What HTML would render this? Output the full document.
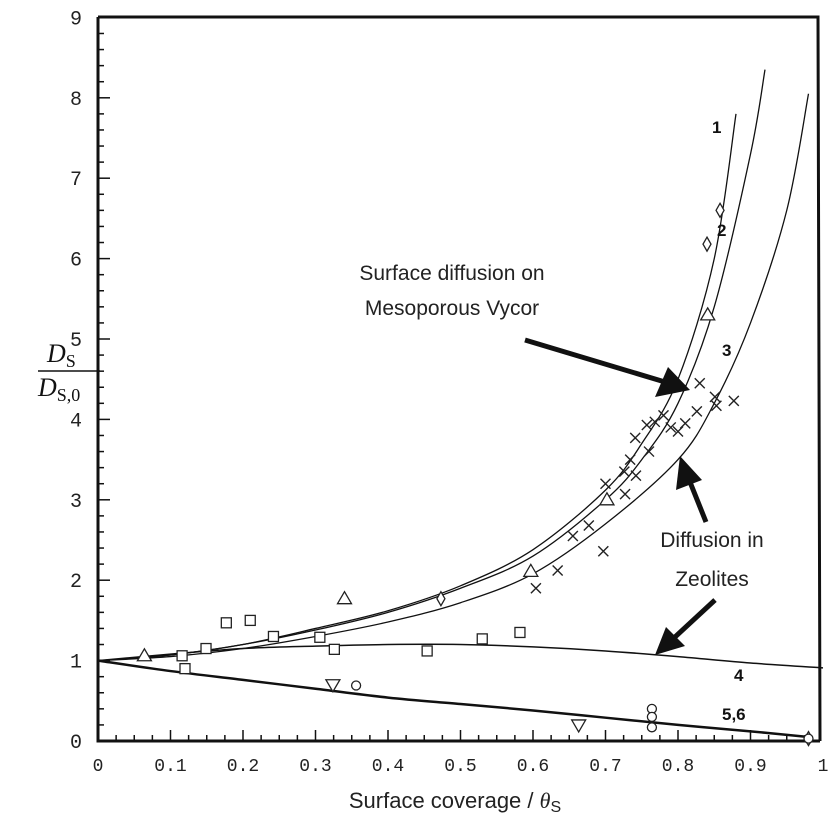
<!DOCTYPE html>
<html><head><meta charset="utf-8"><style>
body{margin:0;background:#fff;}
svg{display:block;}
.tk{font-family:"Liberation Mono",monospace;font-size:18px;fill:#222;}
.an{font-family:"Liberation Sans",sans-serif;font-size:21px;fill:#222;}
.cl{font-family:"Liberation Sans",sans-serif;font-size:17px;font-weight:bold;fill:#111;}
</style></head><body>
<svg id="chart" width="831" height="819" viewBox="0 0 831 819" xmlns="http://www.w3.org/2000/svg">
<g id="axes"></g>
<g id="curves"></g>
<g id="marks"></g>
<text class="cl" x="712" y="133">1</text>
<text class="cl" x="717" y="236">2</text>
<text class="cl" x="722" y="356">3</text>
<text class="cl" x="734" y="681">4</text>
<text class="cl" x="722" y="720">5,6</text>
<text class="an" x="452" y="280" text-anchor="middle">Surface diffusion on</text>
<text class="an" x="452" y="315" text-anchor="middle">Mesoporous Vycor</text>
<text class="an" x="712" y="547" text-anchor="middle">Diffusion in</text>
<text class="an" x="712" y="586" text-anchor="middle">Zeolites</text>
<g><line x1="525" y1="340" x2="665" y2="382" stroke="#111" stroke-width="5"/><polygon points="690,390 655,397 668,367" fill="#111"/></g>
<g><line x1="706" y1="522" x2="690" y2="482" stroke="#111" stroke-width="5"/><polygon points="680,456 702,480 676,490" fill="#111"/></g>
<g><line x1="715" y1="600" x2="675" y2="637" stroke="#111" stroke-width="5"/><polygon points="655,655 666,627 685,646" fill="#111"/></g>
<g font-family="Liberation Serif,serif" font-size="26" fill="#111">
<text x="47" y="362" font-style="italic">D<tspan font-style="normal" font-size="18" dy="5">S</tspan></text>
<line x1="38" y1="371" x2="100" y2="371" stroke="#111" stroke-width="1.5"/>
<text x="38" y="396" font-style="italic">D<tspan font-style="normal" font-size="18" dy="5">S,0</tspan></text>
</g>
<text x="455" y="808" text-anchor="middle" font-family="Liberation Sans,sans-serif" font-size="22" fill="#222">Surface coverage / <tspan font-family="Liberation Serif,serif" font-style="italic">θ</tspan><tspan font-size="16" dy="4">S</tspan></text>
</svg>
<script>
const xTicks=[0,0.1,0.2,0.3,0.4,0.5,0.6,0.7,0.8,0.9,1];
const xTickLabels=["0","0.1","0.2","0.3","0.4","0.5","0.6","0.7","0.8","0.9","1"];
const yTicks=[0,1,2,3,4,5,6,7,8,9];
const curve1=[[0,1],[0.1,1.07],[0.2,1.2],[0.3,1.4],[0.4,1.62],[0.5,1.93],[0.6,2.38],[0.7,3.12],[0.75,3.7],[0.8,4.5],[0.85,6.0],[0.88,7.8]];
const curve2=[[0,1],[0.1,1.07],[0.2,1.2],[0.3,1.38],[0.4,1.6],[0.5,1.9],[0.6,2.3],[0.7,3.0],[0.75,3.5],[0.8,4.2],[0.85,5.4],[0.9,7.3],[0.92,8.35]];
const curve3=[[0,1],[0.1,1.05],[0.2,1.15],[0.3,1.3],[0.4,1.48],[0.5,1.72],[0.6,2.08],[0.7,2.7],[0.8,3.5],[0.85,4.2],[0.9,5.2],[0.95,6.6],[0.98,8.05]];
const curve4=[[0,1],[0.1,1.08],[0.2,1.15],[0.3,1.18],[0.4,1.2],[0.5,1.2],[0.6,1.17],[0.7,1.12],[0.8,1.05],[0.9,0.97],[1.0,0.91]];
const curve56=[[0,1],[0.1,0.87],[0.2,0.76],[0.3,0.65],[0.4,0.54],[0.5,0.46],[0.6,0.38],[0.7,0.29],[0.8,0.2],[0.9,0.12],[0.98,0.05]];
const squares=[[0.116,1.06],[0.12,0.9],[0.149,1.15],[0.177,1.47],[0.21,1.5],[0.242,1.3],[0.306,1.29],[0.326,1.14],[0.454,1.12],[0.53,1.27],[0.582,1.35]];
const triangles=[[0.064,1.06],[0.34,1.77],[0.597,2.11],[0.702,3.0],[0.841,5.3]];
const diamonds=[[0.473,1.77],[0.84,6.18],[0.858,6.6],[0.98,0.03]];
const invTriangles=[[0.324,0.7],[0.663,0.2]];
const circles=[[0.356,0.69],[0.764,0.4],[0.764,0.3],[0.764,0.17],[0.98,0.03]];
const crosses=[[0.604,1.9],[0.634,2.12],[0.655,2.55],[0.677,2.68],[0.697,2.36],[0.7,3.2],[0.727,3.07],[0.726,3.35],[0.734,3.5],[0.741,3.77],[0.757,3.93],[0.768,3.97],[0.826,4.1],[0.83,4.45],[0.851,4.28],[0.853,4.17],[0.877,4.23],[0.742,3.3],[0.76,3.6],[0.78,4.05],[0.8,3.85],[0.81,3.95],[0.79,3.9]];
const NS="http://www.w3.org/2000/svg";
const X=v=>98+725*v, Y=v=>741-80.4*v;
function mk(tag,attrs,parent){const e=document.createElementNS(NS,tag);for(const k in attrs)e.setAttribute(k,attrs[k]);parent.appendChild(e);return e;}
const ax=document.getElementById('axes');
let fr=mk('path',{d:`M98,17 L818,17 L820,741 M98,17 L98,741 L820,741`,fill:'none',stroke:'#111','stroke-width':3},ax);


xTicks.forEach((t,i)=>{
  const tx=mk('text',{x:X(t),y:771,'text-anchor':'middle',class:'tk'},ax);tx.textContent=xTickLabels[i];
  
  
});
for(let v=0.025;v<1;v+=0.025){const big=Math.abs(v*10-Math.round(v*10))<0.01;mk('line',{x1:X(v),x2:X(v),y1:741,y2:big?730:735,stroke:'#111','stroke-width':1.5},ax);}
yTicks.forEach(t=>{
  const tx=mk('text',{x:76,y:Y(t)+7,'text-anchor':'middle',class:'tk',style:'font-size:20px'},ax);tx.textContent=String(t);
  
  
});
for(let v=0.2;v<9;v+=0.2){const big=Math.abs(v-Math.round(v))<0.01;mk('line',{x1:98,x2:big?110:104,y1:Y(v),y2:Y(v),stroke:'#111','stroke-width':1.5},ax);}
function smooth(pts){const p=pts.map(q=>[X(q[0]),Y(q[1])]);let d=`M${p[0][0]},${p[0][1]}`;
 for(let i=0;i<p.length-1;i++){const p0=p[i-1]||p[i],p1=p[i],p2=p[i+1],p3=p[i+2]||p2;
  d+=` C${p1[0]+(p2[0]-p0[0])/6},${p1[1]+(p2[1]-p0[1])/6} ${p2[0]-(p3[0]-p1[0])/6},${p2[1]-(p3[1]-p1[1])/6} ${p2[0]},${p2[1]}`;}return d;}
const cg=document.getElementById('curves');
[[curve1,'curve-1',1.3],[curve2,'curve-2',1.3],[curve3,'curve-3',1.3],[curve4,'curve-4',1.5],[curve56,'curve-5-6',2.5]].forEach(([c,n,w])=>{
  const p=mk('path',{d:smooth(c),fill:'none',stroke:'#111','stroke-width':w},cg);
  
  
});
const mg=document.getElementById('marks');
const st={fill:'#fff',stroke:'#222','stroke-width':1.3};
squares.forEach(([a,b])=>{const e=mk('rect',Object.assign({x:X(a)-5,y:Y(b)-5,width:10,height:10},st),mg);
 
 });
triangles.forEach(([a,b])=>{const x=X(a),y=Y(b);const e=mk('polygon',Object.assign({points:`${x},${y-7} ${x-7},${y+5} ${x+7},${y+5}`},st),mg);
 
 });
invTriangles.forEach(([a,b])=>{const x=X(a),y=Y(b);const e=mk('polygon',Object.assign({points:`${x},${y+7} ${x-7},${y-5} ${x+7},${y-5}`},st),mg);
 
 });
diamonds.forEach(([a,b])=>{const x=X(a),y=Y(b);const e=mk('polygon',Object.assign({points:`${x},${y-7} ${x+4},${y} ${x},${y+7} ${x-4},${y}`},st),mg);
 
 });
circles.forEach(([a,b])=>{const e=mk('circle',Object.assign({cx:X(a),cy:Y(b),r:4.5},st),mg);
 
 });
crosses.forEach(([a,b])=>{const x=X(a),y=Y(b);const e=mk('path',{d:`M${x-5},${y-5}L${x+5},${y+5}M${x+5},${y-5}L${x-5},${y+5}`,stroke:'#222','stroke-width':1.4},mg);
 
 });
</script>
</body></html>
